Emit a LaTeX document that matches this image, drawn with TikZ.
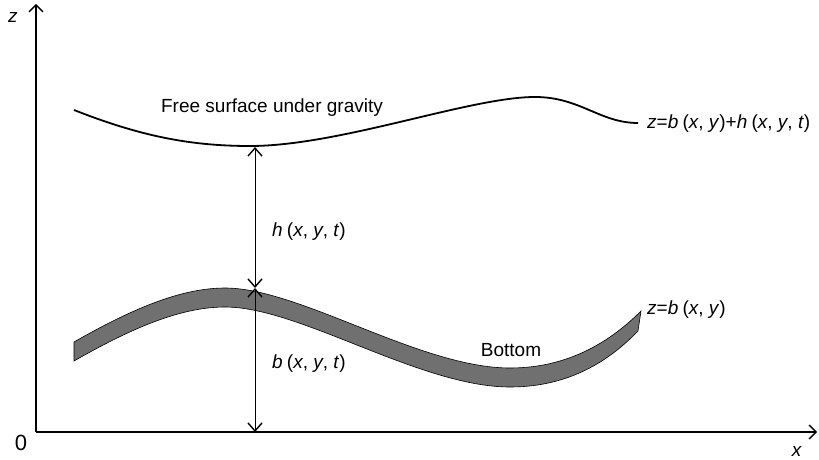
\documentclass[tikz,border=0pt]{standalone}
\usepackage{fontspec}
\setmainfont{Liberation Sans}
\usetikzlibrary{arrows.meta}
\newcommand{\iv}[1]{\textit{#1}}
\newcommand{\gp}{\hspace{0.22em}}
\begin{document}
\begin{tikzpicture}[x=1pt,y=-1pt,
  lbl/.style={font=\fontsize{19}{22}\selectfont, inner sep=0pt},
  axis/.style={line width=1.2pt},
  barb/.style={line width=1pt, {Straight Barb[length=8pt,width=14pt,line width=1.4pt]}-{Straight Barb[length=8pt,width=14pt,line width=1.4pt]}},
  surf/.style={line width=1.8pt},
  band/.style={fill=black!56, draw=black, line width=0.6pt}]
\useasboundingbox (0,0) rectangle (819,460);
% axes
\coordinate (O) at (36,432);
\coordinate (ztop) at (36,4);
\coordinate (xend) at (817,432);
\draw[axis, -{Straight Barb[length=7pt,width=14pt,line width=1.4pt]}] (O) -- (ztop);
\draw[axis, -{Straight Barb[length=7pt,width=14pt,line width=1.4pt]}] (O) -- (xend);
\node[lbl] (zl) at (13,17) {\iv{z}};
\node[lbl, font=\fontsize{22}{24}\selectfont] (zero) at (21,443) {0};
\node[lbl] (xl) at (797,451) {\iv{x}};
% bottom band
\path[band] (74,342) .. controls (130,310) and (180,288) .. (225,288)
  .. controls (300,288) and (420,368) .. (510,368)
  .. controls (570,368) and (612,340) .. (641,311)
  -- (638,331)
  .. controls (610,360) and (570,387) .. (510,387)
  .. controls (420,387) and (300,307) .. (225,307)
  .. controls (180,307) and (130,329) .. (74,361) -- cycle;
% free surface
\draw[surf] (74,110) .. controls (140,136) and (190,146) .. (250,146)
  .. controls (340,146) and (470,97) .. (535,97)
  .. controls (580,97) and (600,123) .. (638,123);
% arrows
\coordinate (hs) at (255,147);
\coordinate (hb) at (255,288);
\coordinate (bb) at (255,432);
\draw[barb] (hb) -- (hs);
\draw[barb] (hb) -- (bb);
% labels
\node[lbl] (fs) at (272,108) {Free surface under gravity};
\node[lbl, anchor=west] (hl) at (272,232) {\iv{h}\gp(\iv{x}, \iv{y}, \iv{t})};
\node[lbl, anchor=west] (bl) at (272,364) {\iv{b}\gp(\iv{x}, \iv{y}, \iv{t})};
\node[lbl] (bot) at (511,350) {Bottom};
\node[lbl, anchor=west] (eqb) at (647,310) {\iv{z}=\iv{b}\gp(\iv{x}, \iv{y})};
\node[lbl, anchor=west] (eqs) at (647,124) {\iv{z}=\iv{b}\gp(\iv{x}, \iv{y})+\iv{h}\gp(\iv{x}, \iv{y}, \iv{t})};
\end{tikzpicture}
\end{document}
